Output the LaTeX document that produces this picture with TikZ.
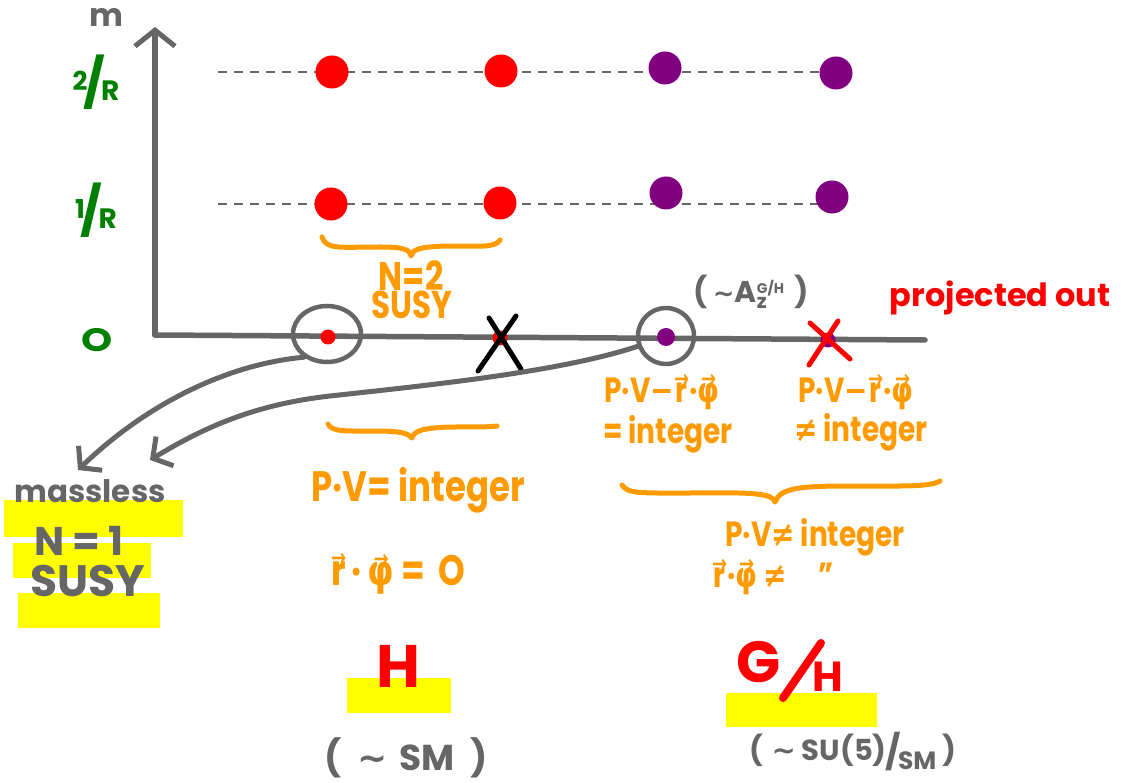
\documentclass[tikz,border=0pt]{standalone}
\usepackage{fontspec}
\setmainfont{Poppins}
\newfontfamily\sym{DejaVu Sans}
\usetikzlibrary{shapes.geometric,arrows.meta}
\definecolor{pen}{HTML}{666666}
\definecolor{leaf}{HTML}{008000}
\definecolor{ink}{HTML}{FF0000}
\definecolor{plum}{HTML}{800080}
\definecolor{amber}{HTML}{FF9A00}
\definecolor{marker}{HTML}{FFFF00}
\newcommand{\fs}[1]{\fontsize{#1}{#1}\selectfont}
% letter with a small arrow on top
\newcommand{\vc}[1]{\leavevmode\vbox{\offinterlineskip\halign{\hfil##\hfil\cr{\sym\bfseries\fs{18}→}\cr\noalign{\kern-3pt}#1\cr}}}
\newcommand{\tall}[1]{\scalebox{1}[1.25]{#1}}
\tikzset{
  axisline/.style={pen, line width=5.5pt, line cap=round, line join=round},
  level/.style={pen, line width=1.4pt, dash pattern=on 9pt off 7pt},
  bigdot/.style={circle, fill=#1, minimum width=31pt, minimum height=33pt, inner sep=0pt},
  smalldot/.style={circle, fill=#1, minimum size=15pt, inner sep=0pt},
  ring/.style={draw=pen, line width=4.5pt, inner sep=0pt},
  tick/.style={leaf, font=\bfseries\fs{34}, inner sep=0pt},
  note/.style={amber, font=\bfseries\fs{34}, inner sep=0pt},
  grey/.style={pen, font=\bfseries\fs{34}, inner sep=0pt},
  brace/.style={amber, line width=5pt, line cap=round, line join=round},
  pointer/.style={pen, line width=5pt, line cap=round, -{Straight Barb[length=14pt,width=34pt,line width=5pt]}},
  cross/.style={line width=5pt, line cap=round},
  hl/.style={fill=marker},
}
\begin{document}
\begin{tikzpicture}[x=1pt,y=-1pt]
\useasboundingbox (0,0) rectangle (1127,783);

% yellow highlights
\fill[hl] (4,500) rectangle (183,537);
\fill[hl] (13,543) rectangle (151,578);
\fill[hl] (18,593) rectangle (160,628);
\fill[hl] (347,678) rectangle (451,713);
\fill[hl] (726,693) rectangle (877,727);

% axes
\coordinate (org) at (155,335);
\coordinate (ytop) at (155,27);
\coordinate (xend) at (925,340);
\draw[axisline, -{Straight Barb[length=16pt,width=40pt,line width=5pt]}] (org) -- (ytop);
\draw[axisline] (org) -- (xend);
\node[grey, font=\bfseries\fs{32}] (mlab) at (106,17) {m};

% tick labels
\node[tick] (t2) at (96,82) {\raisebox{10pt}{\fs{26}2}\hspace{-4pt}\fs{48}/\hspace{-4pt}\fs{28}R};
\node[tick] (t1) at (96,210) {\raisebox{10pt}{\fs{26}1}\hspace{-4pt}\fs{48}/\hspace{-4pt}\fs{28}R};
\node[tick, font=\bfseries\fs{36}] (t0) at (97,340) {\scalebox{1.1}[0.9]{O}};

% Kaluza--Klein levels
\coordinate (l2a) at (218,72);
\coordinate (l2b) at (835,72);
\coordinate (l1a) at (218,204);
\coordinate (l1b) at (830,204);
\draw[level] (l2a) -- (l2b);
\draw[level] (l1a) -- (l1b);

\node[bigdot=ink] (r21) at (332,72) {};
\node[bigdot=ink] (r22) at (501,71) {};
\node[bigdot=plum] (p21) at (665,68) {};
\node[bigdot=plum] (p22) at (836,73) {};
\node[bigdot=ink] (r11) at (331,204) {};
\node[bigdot=ink] (r12) at (500,203) {};
\node[bigdot=plum] (p11) at (666,193) {};
\node[bigdot=plum] (p12) at (832,197) {};

% zero modes
\node[smalldot=ink] (r01) at (328,337) {};
\node[smalldot=ink] (r02) at (500,338) {};
\node[circle, fill=plum, minimum size=18pt, inner sep=0pt] (p01) at (666,337) {};
\node[circle, fill=plum, minimum size=15pt, inner sep=0pt] (p02) at (828,340) {};

\node[ring, ellipse, minimum width=68pt, minimum height=56pt] (e0) at (327,334) {};
\node[ring, circle, minimum size=56pt] (c0) at (666,336) {};

\draw[cross, black] ([shift={(-22,33)}]r02.center) -- ([shift={(16,-22)}]r02.center);
\draw[cross, black] ([shift={(-11,-20)}]r02.center) -- ([shift={(21,31)}]r02.center);
\draw[cross, ink] ([shift={(-19,25)}]p02.center) -- ([shift={(10,-19)}]p02.center);
\draw[cross, ink] ([shift={(-18,-17)}]p02.center) -- ([shift={(22,19)}]p02.center);

% labels near the axis
\node[grey, font=\bfseries\fs{30}] (az) at (751,292) {(\,{\sym\fs{26}∼}A\rlap{\raisebox{-6pt}{\fs{20}z}}\raisebox{9pt}{\fs{14}G/H}\,\,)};
\node[ink, font=\bfseries\fs{32}] (proj) at (1000,298) {projected out};

% braces
\draw[brace] (322,237) .. controls (326,250) and (340,247) .. (380,247)
  .. controls (405,247) and (410,250) .. (411,256)
  .. controls (413,249) and (420,247) .. (445,246)
  .. controls (480,246) and (495,248) .. (500,240);
\node[note, font=\bfseries\fs{32}] (n2a) at (411,276) {\tall{N=2}};
\node[note, font=\bfseries\fs{31}] (n2b) at (412,305) {\tall{SUSY}};

\draw[brace] (328,424) .. controls (332,432) and (345,431) .. (375,431)
  .. controls (400,431) and (408,433) .. (412,438)
  .. controls (414,430) and (425,428) .. (450,427)
  .. controls (480,427) and (490,427) .. (497,426);

\draw[brace] (622,485) .. controls (628,494) and (640,493) .. (690,493)
  .. controls (760,492) and (772,494) .. (775,502)
  .. controls (780,488) and (800,486) .. (850,486)
  .. controls (905,486) and (930,487) .. (940,481);

% conditions
\node[note, font=\bfseries\fs{34}] (pvint) at (418,490) {\tall{P·V= integer}};
\node[note, font=\bfseries\fs{34}] (rphi0) at (398,574) {\tall{\vc{r}\,·\,\vc{\sym φ} = \,O}};
\node[note, font=\bfseries\fs{28}] (pva1) at (662,392) {\tall{P·V{\sym −}\vc{r}·\vc{\sym φ}}};
\node[note, font=\bfseries\fs{28}] (pva2) at (668,434) {\tall{= integer}};
\node[note, font=\bfseries\fs{28}] (pvb1) at (856,392) {\tall{P·V{\sym −}\vc{r}·\vc{\sym φ}}};
\node[note, font=\bfseries\fs{28}] (pvb2) at (861,432) {\tall{{\sym ≠} integer}};
\node[note, font=\bfseries\fs{28}] (pvn) at (815,537) {\tall{P·V{\sym ≠} integer}};
\node[note, font=\bfseries\fs{28}, anchor=west] (rpn) at (712,577) {\tall{\vc{r}·\vc{\sym φ} {\sym ≠}\hspace{32pt}\char"22}};

% massless multiplets
\node[grey, font=\bfseries\fs{31}] (ml) at (90,491) {massless};
\node[grey, font=\bfseries\fs{40}] (n1) at (79,541) {N = 1};
\node[grey, font=\bfseries\fs{44}] (susy1) at (88,581) {SUSY};
\coordinate (tipA) at (78,470);
\coordinate (tipB) at (150,460);
\draw[pointer] (e0.225) .. controls (220,365) and (140,410) .. (tipA);
\draw[pointer] (c0.200) .. controls (560,372) and (430,385) .. (330,396)
  .. controls (250,405) and (200,430) .. (tipB);

% groups
\node[ink, font=\bfseries\fs{60}] (hg) at (398,666) {H};
\node[ink, font=\bfseries\fs{58}] (gg) at (759,662) {G};
\draw[ink, line width=8pt, line cap=round] (783,698) -- (821,643);
\node[ink, font=\bfseries\fs{42}] (hh) at (828,677) {H};
\node[grey, font=\bfseries\fs{36}] (sm) at (406,758) {(\hspace{16pt}{\sym ∼}\hspace{12pt}SM\hspace{16pt})};
\node[grey, font=\bfseries\fs{29}] (su5) at (853,752) {(\hspace{8pt}{\sym ∼}\hspace{6pt}SU(5)\hspace{-1pt}\raisebox{-4pt}{\fs{34}/}\hspace{-3pt}\raisebox{-9pt}{\fs{25}SM}\hspace{6pt})};
\end{tikzpicture}
\end{document}
